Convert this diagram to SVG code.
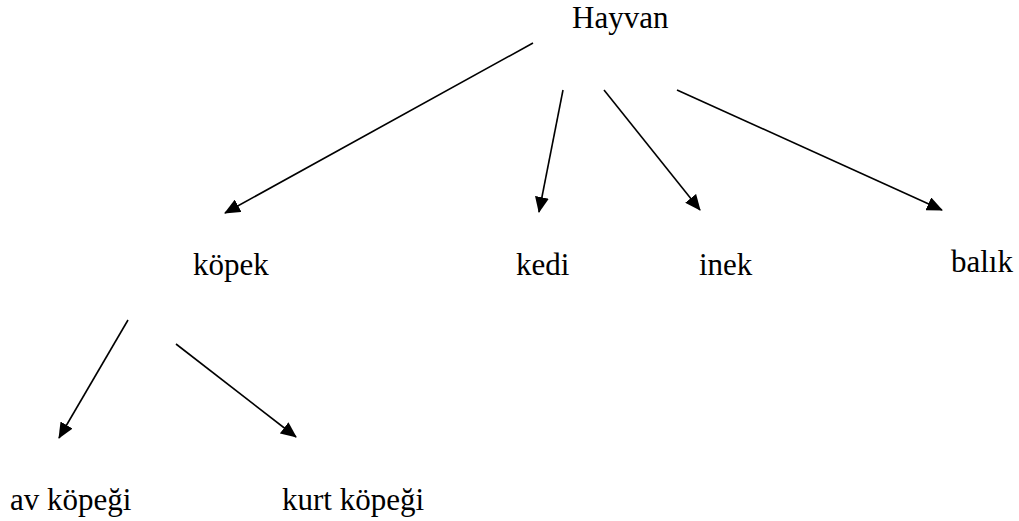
<svg xmlns="http://www.w3.org/2000/svg" width="1019" height="521" viewBox="0 0 1019 521">
<style>
.t{font-family:'Liberation Serif','DejaVu Serif',serif;font-size:31px;fill:#000}
.c line{stroke:#000;stroke-width:1.6;fill:none}
</style>
<defs>
<marker id="ah" markerUnits="userSpaceOnUse" markerWidth="16" markerHeight="14" refX="15" refY="7" orient="auto">
<path d="M0,0 L16,7 L0,14 Z" fill="#000"/>
</marker>
</defs>
<rect width="1019" height="521" fill="#fff"/>
<g class="c" id="connectors">
<line x1="533" y1="43" x2="225" y2="213" marker-end="url(#ah)"/>
<line x1="563" y1="90" x2="539" y2="212" marker-end="url(#ah)"/>
<line x1="604" y1="90" x2="700" y2="210" marker-end="url(#ah)"/>
<line x1="677" y1="90" x2="942" y2="210" marker-end="url(#ah)"/>
<line x1="128" y1="320" x2="59" y2="438" marker-end="url(#ah)"/>
<line x1="176" y1="344" x2="296" y2="437" marker-end="url(#ah)"/>
</g>
<g id="hayvan"><text class="t" x="572" y="28">Hayvan</text></g>
<g id="kopek"><text class="t" x="193" y="275">köpek</text></g>
<g id="kedi"><text class="t" x="516" y="275">kedi</text></g>
<g id="inek"><text class="t" x="699" y="275">inek</text></g>
<g id="balik"><text class="t" x="951" y="272">balık</text></g>
<g id="av-kopegi"><text class="t" x="10" y="510">av köpeği</text></g>
<g id="kurt-kopegi"><text class="t" x="282" y="510">kurt köpeği</text></g>
</svg>
